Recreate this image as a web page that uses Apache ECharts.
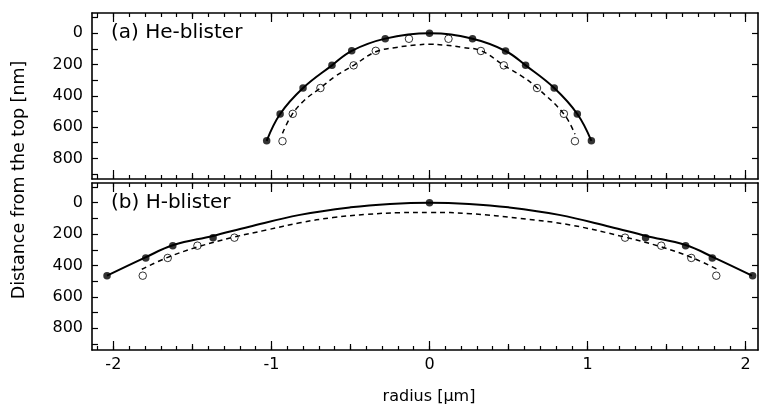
<!DOCTYPE html>
<html>
<head>
<meta charset="UTF-8">
<title>blister profiles</title>
<style>html,body{margin:0;padding:0;background:#fff;}</style>
</head>
<body>
<div id="main" style="width:760px;height:406px;"></div>
<script src="https://cdn.jsdelivr.net/npm/echarts@6/dist/echarts.min.js"></script>
<script>
// (a) He-blister: measured points (filled = before, open = after)
var heFilledX = [-1.03, -0.945, -0.80, -0.617, -0.492, -0.28, 0, 0.272, 0.481, 0.608, 0.789, 0.935, 1.024];
var heFilledY = [688, 516, 350, 205, 112, 34, 0, 35, 113, 205, 350, 516, 688];
var heOpenX = [-0.93, -0.865, -0.69, -0.48, -0.34, -0.13, 0.12, 0.325, 0.47, 0.68, 0.85, 0.92];
var heOpenY = [690, 515, 350, 205, 112, 35, 35, 113, 205, 350, 515, 690];
// dashed fit curve
var heDashX = [-0.93, -0.87, -0.79, -0.69, -0.60, -0.48, -0.34, -0.21, -0.09, 0, 0.09, 0.21, 0.33, 0.47, 0.59, 0.68, 0.85, 0.92];
var heDashY = [640, 520, 427, 350, 278, 205, 118, 90, 75, 70, 75, 90, 113, 205, 278, 348, 516, 646];

// (b) H-blister
var hFilledX = [-2.04, -1.795, -1.624, -1.369, 0, 1.367, 1.62, 1.789, 2.044];
var hFilledY = [465, 352, 274, 223, 0, 223, 274, 352, 465];
var hOpenX = [-1.814, -1.656, -1.468, -1.234, 1.237, 1.466, 1.656, 1.814];
var hOpenY = [465, 352, 274, 223, 223, 274, 352, 465];
// solid and dashed curves
var hSolidX = [-2.04, -1.80, -1.62, -1.37, -1.14, -0.82, -0.50, -0.25, 0, 0.25, 0.50, 0.82, 1.14, 1.37, 1.62, 1.80, 2.04];
var hSolidY = [465, 350, 270, 212, 153, 78, 30, 8, 0, 8, 30, 78, 153, 212, 270, 350, 465];
var hDashX = [-1.82, -1.66, -1.47, -1.24, -1.03, -0.82, -0.61, -0.40, -0.19, 0, 0.26, 0.57, 0.89, 1.23, 1.46, 1.66, 1.82];
var hDashY = [424, 350, 283, 220, 174, 128, 95, 75, 64, 62, 70, 100, 142, 218, 280, 350, 424];

// ticks and labels
var xMajor = [-2, -1, 0, 1, 2];
var xHalf = [-1.5, -0.5, 0.5, 1.5];
var xLabels = [-2, -1, 0, 1, 2];
var yTicks = [-100, 0, 100, 200, 300, 400, 500, 600, 700, 800, 900];
var yMajor = [0, 200, 400, 600, 800];
var yLabels = [0, 200, 400, 600, 800];

var xMinor = [];
for (var t = -21; t <= 20; t++) xMinor.push(t / 10);

var font = 'DejaVu Sans, Verdana, sans-serif';
var xMin = -2.135, xMax = 2.078;
var yRange = [[-130, 932], [-125, 938]];

function pairs(xs, ys) {
	return xs.map(function (x, i) { return [x, ys[i]]; });
}

function xAxis(g, pos, ticks, len, line, labels, name) {
	return {
		type: 'value', gridIndex: g, position: pos, min: xMin, max: xMax,
		axisLine: {show: line, onZero: false, lineStyle: {color: '#000', width: 1.6}},
		axisTick: {show: true, inside: true, length: len, customValues: ticks, lineStyle: {color: '#000', width: 1.2}},
		axisLabel: labels ? {show: true, customValues: labels, margin: 7, color: '#000', fontSize: 16, fontFamily: font} : {show: false},
		splitLine: {show: false},
		name: name || '', nameLocation: 'middle', nameGap: 39,
		nameTextStyle: {color: '#000', fontSize: 16, fontFamily: font, padding: [0, 0, 0, 8]}
	};
}

function yAxis(g, pos, ticks, labels) {
	return {
		type: 'value', gridIndex: g, position: pos, inverse: true,
		min: yRange[g][0], max: yRange[g][1],
		axisLine: {show: true, onZero: false, lineStyle: {color: '#000', width: 1.6}},
		axisTick: {show: true, inside: true, length: 6, customValues: ticks, lineStyle: {color: '#000', width: 1.2}},
		axisLabel: labels ? {show: true, customValues: labels, margin: 9, color: '#000', fontSize: 16, fontFamily: font} : {show: false},
		splitLine: {show: false}
	};
}

var xAxes = [];
[0, 1].forEach(function (g) {
	xAxes.push(xAxis(g, 'bottom', xMajor, 9, true, g === 1 ? xLabels : null, g === 1 ? 'radius [µm]' : ''));
	xAxes.push(xAxis(g, 'bottom', xHalf, 6, false));
	xAxes.push(xAxis(g, 'bottom', xMinor, 4, false));
	xAxes.push(xAxis(g, 'top', xMajor, 9, true));
	xAxes.push(xAxis(g, 'top', xHalf, 6, false));
	xAxes.push(xAxis(g, 'top', xMinor, 4, false));
});
var yAxes = [
	yAxis(0, 'left', yTicks, yLabels), yAxis(0, 'right', yMajor),
	yAxis(1, 'left', yTicks, yLabels), yAxis(1, 'right', yMajor)
];

function curve(xi, yi, data, dashed) {
	return {
		type: 'line', xAxisIndex: xi, yAxisIndex: yi, data: data,
		smooth: 0.4, symbol: 'none', z: 2,
		lineStyle: {color: '#000', width: dashed ? 1.5 : 2, type: dashed ? [5, 4] : 'solid'}
	};
}
function dots(xi, yi, data, open) {
	return {
		type: 'scatter', xAxisIndex: xi, yAxisIndex: yi, data: data,
		symbol: 'circle', symbolSize: 7.5, z: 3,
		itemStyle: open ? {color: 'rgba(0,0,0,0)', borderColor: '#000', borderWidth: 1} : {color: '#000'}
	};
}

var myChart = echarts.init(document.getElementById('main'));
var option = {
	animation: false,
	backgroundColor: '#fff',
	grid: [
		{left: 92, top: 13, width: 666, height: 166, outerBoundsMode: 'none'},
		{left: 92, top: 183, width: 666, height: 167, outerBoundsMode: 'none'}
	],
	xAxis: xAxes,
	yAxis: yAxes,
	graphic: [
		{type: 'text', x: 19, y: 180, rotation: Math.PI / 2,
			style: {text: 'Distance from the top [nm]', fill: '#000', font: '17.5px ' + font, textAlign: 'center', textVerticalAlign: 'middle'}},
		{type: 'text', x: 111, y: 33,
			style: {text: '(a) He-blister', fill: '#000', font: '20px ' + font, textAlign: 'left', textVerticalAlign: 'middle'}},
		{type: 'text', x: 111, y: 203,
			style: {text: '(b) H-blister', fill: '#000', font: '20px ' + font, textAlign: 'left', textVerticalAlign: 'middle'}}
	],
	series: [
		curve(0, 0, pairs(heFilledX, heFilledY), false),
		curve(0, 0, pairs(heDashX, heDashY), true),
		dots(0, 0, pairs(heFilledX, heFilledY), false),
		dots(0, 0, pairs(heOpenX, heOpenY), true),
		curve(6, 2, pairs(hSolidX, hSolidY), false),
		curve(6, 2, pairs(hDashX, hDashY), true),
		dots(6, 2, pairs(hFilledX, hFilledY), false),
		dots(6, 2, pairs(hOpenX, hOpenY), true)
	]
};
myChart.setOption(option);
</script>
</body>
</html>
